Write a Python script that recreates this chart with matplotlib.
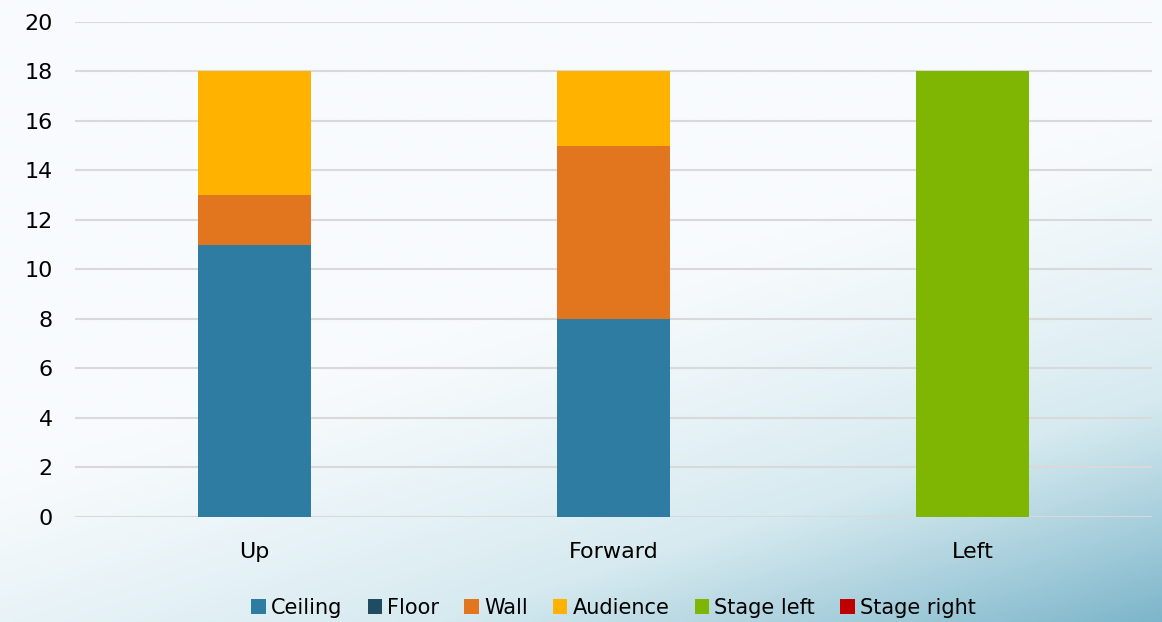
import numpy as np
import matplotlib.pyplot as plt
from matplotlib.colors import LinearSegmentedColormap

# Data
categories = ['Up', 'Forward', 'Left']
series_names = ['Ceiling', 'Floor', 'Wall', 'Audience', 'Stage left', 'Stage right']
ceiling = [11, 8, 0]
floor = [0, 0, 0]
wall = [2, 7, 0]
audience = [5, 3, 0]
stage_left = [0, 0, 18]
stage_right = [0, 0, 0]

colors = ['#2E7CA2', '#1F4C63', '#E2761F', '#FFB300', '#7FB604', '#C00000']

fig = plt.figure(figsize=(11.62, 6.22), dpi=100)

# Background: pale with a blue wash towards the bottom right
bg = fig.add_axes([0, 0, 1, 1], zorder=0)
gx, gy = np.meshgrid(np.linspace(0, 1, 400), np.linspace(0, 1, 220))
t = np.clip((gx * 0.55 + gy * 0.95 - 0.72) / 0.78, 0, 1) ** 1.2
cmap = LinearSegmentedColormap.from_list('bg', ['#F8FBFD', '#D6EAF0', '#7DB6CA'])
bg.imshow(t, cmap=cmap, aspect='auto', extent=[0, 1, 0, 1], vmin=0, vmax=1)
bg.axis('off')

ax = fig.add_axes([0.0645, 0.169, 0.927, 0.796], zorder=1)
ax.patch.set_alpha(0)

x = np.arange(len(categories))
bottom = np.zeros(len(categories))
for name, vals, c in zip(series_names,
                         [ceiling, floor, wall, audience, stage_left, stage_right],
                         colors):
    ax.bar(x, vals, 0.315, bottom=bottom, color=c, label=name, zorder=3)
    bottom += np.array(vals)

ax.set_xlim(-0.5, 2.5)
ax.set_ylim(0, 20)
ax.set_yticks(range(0, 21, 2))
ax.set_xticks(x)
ax.set_xticklabels(categories)
ax.tick_params(length=0, labelsize=16)
ax.tick_params(axis='y', pad=16)
ax.tick_params(axis='x', pad=18)
ax.grid(axis='y', color='#D9D9D9', linewidth=1.5, zorder=0)
for s in ax.spines.values():
    s.set_visible(False)

ax.legend(loc='upper center', bbox_to_anchor=(0.5, -0.125), ncol=6, frameon=False,
          fontsize=15, handlelength=0.7, handleheight=0.7, handletextpad=0.25,
          columnspacing=1.2)

plt.savefig('out.png', dpi=100)
